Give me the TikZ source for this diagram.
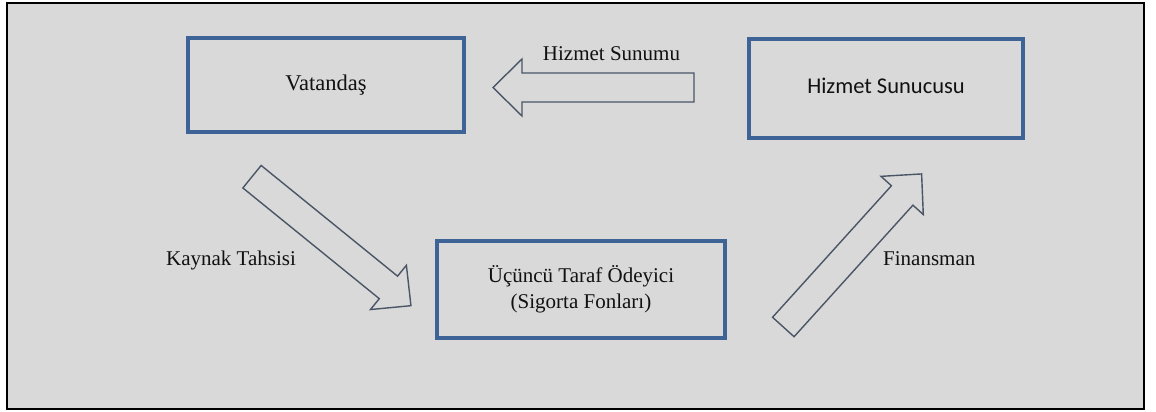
\documentclass[tikz,border=0pt]{standalone}
\usepackage{fontspec}
\setmainfont{Liberation Serif}
\newfontfamily\calibrifont{Carlito}
\definecolor{panelgray}{HTML}{D9D9D9}
\definecolor{boxblue}{HTML}{3E6497}
\definecolor{arrowline}{HTML}{4A5566}
\definecolor{textdark}{HTML}{111111}

% block arrow: tail centre (x,y), direction angle, total length
\newcommand\blockarrow[4]{%
  \begin{scope}[shift={(#1,#2)},rotate=#3]
    \draw[hollowarrow] (0,-14.5) -- ({#4-29},-14.5) -- ({#4-29},-28.5)
      -- (#4,0) -- ({#4-29},28.5) -- ({#4-29},14.5) -- (0,14.5) -- cycle;
  \end{scope}}

\tikzset{
  bluebox/.style={draw=boxblue, line width=4pt, fill=panelgray,
    inner sep=0pt, text=textdark},
  hollowarrow/.style={draw=arrowline, line width=1.4pt, fill=panelgray,
    line join=miter},
  serifbig/.style={font=\fontsize{21}{26}\selectfont},
  flowlabel/.style={serifbig, text=textdark, inner sep=0pt, anchor=base},
}

\begin{document}
\begin{tikzpicture}[x=1pt,y=-1pt]
  \useasboundingbox (0,0) rectangle (1156,412);
  \fill[white] (0,0) rectangle (1156,412);
  % outer panel
  \draw[line width=2.5pt, fill=panelgray] (7,3) rectangle (1144,409);

  % boxes
  \node[bluebox, minimum width=276pt, minimum height=94pt,
        font=\fontsize{22.5}{26}\selectfont,
        text height=15pt, text depth=4pt] (vat) at (326,85) {Vatanda\c{s}};
  \node[bluebox, minimum width=274pt, minimum height=99pt,
        font=\calibrifont\fontsize{22.5}{24}\selectfont,
        text height=15pt, text depth=5pt] (sun) at (886,88.5) {Hizmet Sunucusu};
  \node[bluebox, minimum width=288pt, minimum height=97pt, serifbig,
        align=center] (ode) at (581,289.5)
        {Üçüncü Taraf Ödeyici\\(Sigorta Fonları)};

  % block arrows
  \blockarrow{694}{87.5}{180}{201}
  \blockarrow{252}{176.7}{-39.06}{204.7}
  \blockarrow{783.3}{327}{47.9}{206.3}

  % flow labels
  \node[flowlabel] (lsun) at (611.5,61) {Hizmet Sunumu};
  \node[flowlabel] (lkay) at (231,265) {Kaynak Tahsisi};
  \node[flowlabel] (lfin) at (929.3,265) {Finansman};
\end{tikzpicture}
\end{document}
